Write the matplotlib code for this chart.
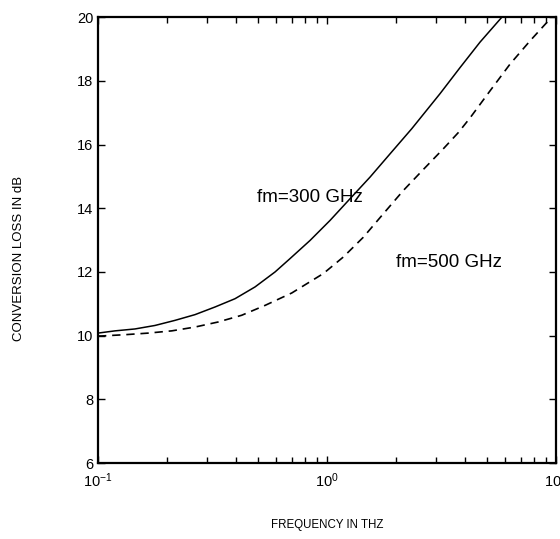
import matplotlib
matplotlib.use('Agg')

import matplotlib.pyplot as plt
from matplotlib.ticker import LogLocator, NullFormatter

plt.rcParams['font.family'] = ['Liberation Sans', 'DejaVu Sans']

# frequency (THz) vs conversion loss (dB)
freq_300 = [0.100, 0.1186, 0.145, 0.1774, 0.2169, 0.2652, 0.3243, 0.3965, 0.4849,
            0.5929, 0.6894, 0.843, 1.031, 1.260, 1.541, 1.884, 2.344, 3.114,
            3.809, 4.657, 5.794]
loss_300 = [10.08, 10.15, 10.21, 10.32, 10.48, 10.66, 10.90, 11.16, 11.53,
            12.00, 12.42, 12.99, 13.62, 14.30, 14.98, 15.71, 16.50, 17.60,
            18.42, 19.22, 20.0]

freq_500 = [0.100, 0.1038, 0.1312, 0.1659, 0.2099, 0.2652, 0.3352, 0.4240, 0.5363,
            0.7015, 0.9634, 1.178, 1.440, 1.762, 2.154, 2.634, 3.220, 3.745,
            4.212, 5.150, 6.297, 7.700, 9.256, 9.51]
loss_500 = [9.99, 9.99, 10.03, 10.08, 10.15, 10.27, 10.43, 10.64, 10.95,
            11.34, 11.95, 12.47, 13.09, 13.83, 14.56, 15.22, 15.87, 16.38,
            16.84, 17.69, 18.53, 19.26, 19.89, 20.0]

yticks = [6, 8, 10, 12, 14, 16, 18, 20]

fig = plt.figure(figsize=(5.6, 5.39), dpi=100)
ax = fig.add_axes([0.175, 0.141, 0.818, 0.827])

ax.plot(freq_300, loss_300, color='black', lw=1.1)
ax.plot(freq_500, loss_500, color='black', lw=1.2, linestyle=(0, (5, 3.5)))

ax.text(0.494, 14.34, 'fm=300 GHz', fontsize=13.5, va='center', ha='left')
ax.text(2.01, 12.31, 'fm=500 GHz', fontsize=13.5, va='center', ha='left')

ax.set_xscale('log')
ax.set_xlim(0.1, 10)
ax.set_ylim(6, 20)
ax.set_yticks(yticks)
ax.xaxis.set_major_locator(LogLocator(base=10, numticks=5))
ax.xaxis.set_minor_locator(LogLocator(base=10, subs=range(2, 10), numticks=20))
ax.xaxis.set_minor_formatter(NullFormatter())

ax.tick_params(which='both', direction='in', top=True, right=True, labelsize=10.5, width=1)
ax.tick_params(which='major', length=5)
ax.tick_params(which='minor', length=4)
ax.tick_params(axis='x', which='major', pad=6)
for s in ax.spines.values():
    s.set_linewidth(1.6)

ax.set_ylabel('CONVERSION LOSS IN dB', fontsize=9.5)
ax.yaxis.set_label_coords(-0.16, 0.46)
ax.set_xlabel('FREQUENCY IN THZ', fontsize=8.3, labelpad=21)

plt.savefig('out.png', dpi=100)
plt.close()
